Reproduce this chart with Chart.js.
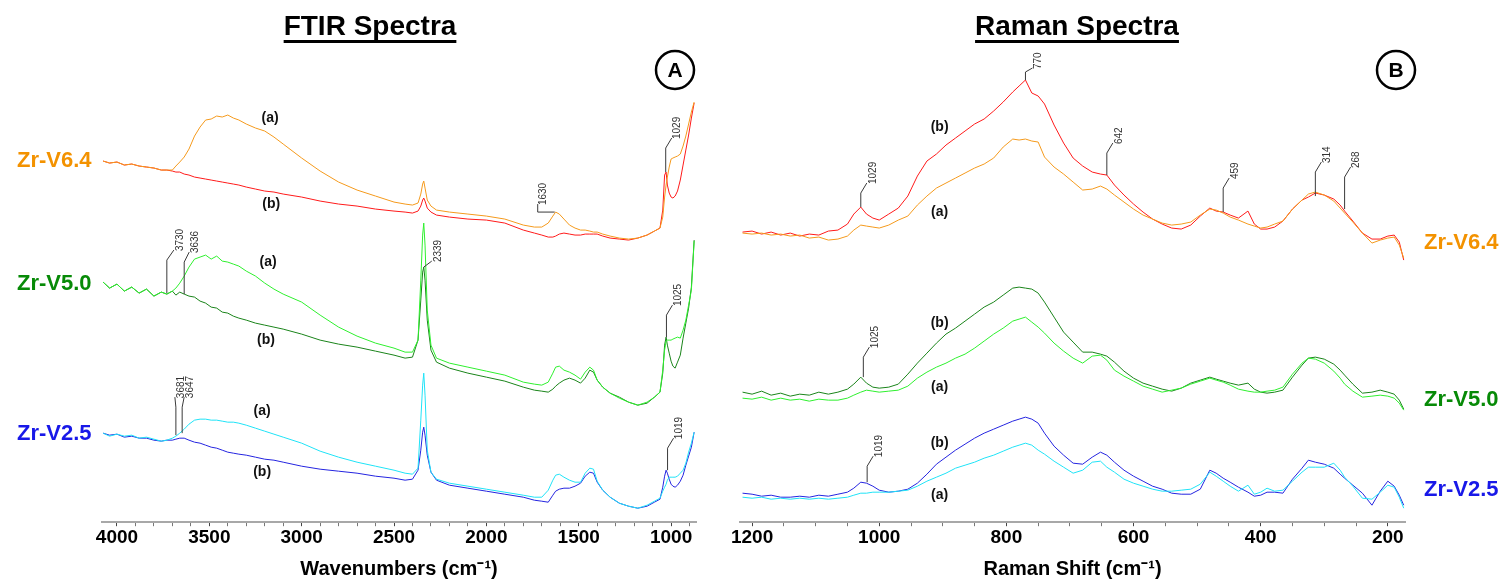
<!DOCTYPE html>
<html>
<head>
<meta charset="utf-8">
<title>FTIR and Raman spectra</title>
<script src="https://cdn.jsdelivr.net/npm/chart.js@4.4.1/dist/chart.umd.min.js"></script>
<style>
  body { margin: 0; background: #fff; width: 1502px; height: 584px; position: relative; overflow: hidden; }
  #ftir { position: absolute; left: 0; top: 0; }
  #raman { position: absolute; left: 700px; top: 0; }
</style>
</head>
<body>
<canvas id="ftir" width="740" height="584"></canvas>
<canvas id="raman" width="802" height="584"></canvas>
<script>
// ========================
// FTIR DATA (cm-1, stacked absorbance a.u.)
// ========================
const ftirWavenumbers = [
  4075, 4040, 4000, 3960, 3920, 3880, 3840, 3800, 3760, 3730,
  3700, 3681, 3660, 3636, 3610, 3580, 3550, 3520, 3490, 3460,
  3430, 3400, 3370, 3340, 3300, 3250, 3200, 3150, 3100, 3000,
  2900, 2800, 2700, 2600, 2500, 2440, 2400, 2370, 2355, 2345,
  2339, 2332, 2320, 2300, 2270, 2200, 2100, 2000, 1900, 1800,
  1740, 1700, 1665, 1640, 1625, 1605, 1580, 1550, 1520, 1490,
  1465, 1440, 1420, 1400, 1370, 1330, 1280, 1230, 1180, 1130,
  1090, 1060, 1045, 1035, 1027, 1020, 1010, 1000, 990, 978,
  965, 950, 935, 920, 905, 890, 875
];
const ftirV64a = [
  361, 359, 360, 357, 358, 356, 355, 354, 352, 352,
  352, 356, 360, 365, 373, 386, 395, 402, 403, 406,
  405, 407, 404, 402, 398, 394, 391, 385, 378, 364,
  351, 340, 332, 326, 320, 318, 317, 319, 328, 338,
  341, 334, 322, 316, 312, 310, 308, 306, 303, 297,
  295, 295, 299, 306, 310, 308, 303, 297, 294, 292,
  292, 291, 290, 290, 288, 286, 284, 283, 284, 287,
  291, 294, 305, 325, 337, 345, 355, 363, 364, 365,
  366, 368, 376, 386, 398, 410, 420
];
const ftirV64b = [
  361, 359, 360, 357, 358, 356, 355, 354, 352, 352,
  351, 350, 350, 348, 347, 345, 344, 343, 342, 341,
  340, 339, 338, 337, 335, 333, 331, 330, 328, 325,
  321, 318, 316, 313, 311, 310, 309, 311, 316, 322,
  324, 321, 314, 310, 307, 305, 303, 302, 299, 292,
  289, 287, 285, 285, 286, 288, 289, 288, 287, 287,
  288, 288, 288, 288, 286, 284, 283, 282, 284, 287,
  291, 294, 312, 347, 350, 337, 329, 325, 324, 326,
  331, 342, 357, 372, 387, 404, 419
];
const ftirV50a = [
  240, 234, 238, 231, 235, 229, 233, 226, 230, 228,
  231, 234, 239, 246, 255, 263, 265, 267, 263, 266,
  261, 260, 258, 256, 251, 246, 239, 233, 228, 220,
  207, 195, 186, 179, 174, 170, 170, 182, 242, 287,
  299, 277, 212, 177, 164, 159, 155, 151, 147, 140,
  138, 137, 140, 149, 155, 156, 152, 150, 147, 143,
  150, 155, 152, 142, 135, 129, 124, 120, 117, 120,
  125, 130, 152, 172, 181, 182, 182, 182, 183, 184,
  185, 184, 192, 202, 217, 232, 281
];
const ftirV50b = [
  240, 234, 238, 231, 235, 229, 233, 226, 230, 228,
  231, 227, 230, 228, 226, 225, 221, 219, 215, 214,
  210, 209, 206, 204, 202, 199, 197, 195, 193, 188,
  182, 178, 175, 171, 167, 164, 165, 182, 222, 250,
  255, 242, 202, 172, 160, 154, 149, 145, 141, 135,
  132, 131, 130, 133, 136, 139, 142, 144, 142, 139,
  144, 152, 150, 142, 135, 129, 125, 120, 117, 119,
  125, 130, 149, 177, 185, 177, 169, 161, 156, 154,
  160, 167, 184, 199, 214, 235, 282
];
const ftirV25a = [
  89, 86, 88, 86, 87, 84, 85, 83, 81, 82,
  84, 86, 89, 93, 98, 102, 103, 103, 102, 102,
  101, 100, 100, 99, 97, 94, 91, 88, 85, 79,
  71, 65, 60, 56, 52, 49, 48, 54, 102, 137,
  149, 127, 72, 50, 43, 39, 36, 33, 30, 27,
  25, 25, 32, 42, 47, 48, 45, 42, 40, 40,
  49, 54, 53, 41, 32, 25, 19, 16, 14, 17,
  21, 24, 31, 35, 38, 42, 45, 45, 45, 45,
  46, 49, 52, 59, 70, 79, 90
];
const ftirV25b = [
  89, 87, 88, 85, 86, 84, 84, 82, 81, 82,
  82, 83, 84, 84, 82, 80, 79, 77, 75, 74,
  72, 70, 69, 68, 67, 65, 63, 62, 60, 56,
  53, 51, 49, 46, 44, 42, 43, 52, 72, 90,
  95, 87, 67, 50, 42, 37, 34, 31, 28, 25,
  22, 21, 20, 27, 31, 33, 34, 34, 36, 39,
  46, 50, 49, 40, 32, 25, 19, 16, 14, 16,
  20, 23, 35, 46, 52, 49, 43, 38, 36, 35,
  37, 41, 47, 57, 66, 75, 90
];
const ftirTickLabels = [4000, 3500, 3000, 2500, 2000, 1500, 1000];

// ========================
// RAMAN DATA (cm-1, stacked intensity a.u.)
// ========================
const ramanShifts = [
  1215, 1200, 1185, 1170, 1155, 1140, 1125, 1110, 1095, 1080,
  1065, 1050, 1040, 1029, 1020, 1010, 1000, 985, 970, 955,
  940, 925, 910, 895, 880, 865, 850, 835, 820, 805,
  790, 780, 770, 760, 750, 740, 725, 710, 695, 680,
  665, 652, 642, 630, 615, 600, 585, 570, 555, 540,
  525, 510, 495, 480, 470, 459, 448, 435, 420, 410,
  400, 390, 378, 365, 350, 335, 325, 314, 300, 285,
  275, 268, 255, 240, 225, 212, 200, 190, 182, 175
];
const ramanV64a = [
  289, 288, 289, 287, 288, 286, 287, 284, 285, 282,
  283, 286, 292, 297, 296, 295, 294, 297, 302, 306,
  317, 326, 334, 339, 344, 349, 354, 358, 364, 375,
  383, 382, 383, 381, 380, 365, 355, 348, 340, 332,
  333, 336, 333, 327, 320, 313, 307, 303, 299, 297,
  298, 300, 307, 313, 312, 309, 305, 302, 298, 296,
  294, 295, 298, 301, 313, 322, 328, 330, 327, 321,
  314, 309, 300, 289, 279, 282, 284, 285, 277, 264
];
const ramanV64b = [
  290, 291, 288, 290, 287, 289, 286, 288, 287, 291,
  292, 298, 308, 315, 308, 304, 302, 308, 314, 326,
  346, 361, 368, 377, 384, 391, 398, 403, 411, 420,
  430, 436, 442, 429, 426, 418, 397, 379, 364, 356,
  350, 348, 347, 337, 327, 318, 310, 303, 298, 294,
  293, 297, 306, 314, 311, 310, 307, 304, 311, 298,
  293, 293, 295, 301, 313, 322, 325, 329, 327, 323,
  317, 311, 301, 289, 283, 283, 286, 287, 280, 262
];
const ramanV50a = [
  124, 123, 125, 122, 124, 122, 123, 121, 123, 122,
  122, 124, 127, 130, 132, 131, 130, 131, 132, 136,
  144, 150, 155, 159, 164, 168, 174, 181, 188, 194,
  201, 203, 205, 200, 195, 189, 179, 171, 164, 159,
  166, 167, 162, 152, 146, 141, 136, 133, 130, 132,
  134, 138, 141, 144, 142, 140, 137, 133, 131, 130,
  130, 131, 132, 135, 148, 159, 164, 163, 159, 151,
  144, 138, 131, 125, 126, 127, 126, 124, 119, 112
];
const ramanV50b = [
  130, 128, 131, 127, 129, 126, 128, 127, 130, 128,
  130, 133, 138, 145, 139, 135, 134, 135, 138, 148,
  159, 169, 179, 188, 194, 201, 208, 215, 220, 227,
  234, 235, 234, 233, 229, 220, 205, 190, 180, 170,
  170, 168, 166, 160, 151, 144, 139, 136, 133, 131,
  134, 139, 142, 145, 143, 141, 139, 137, 139, 133,
  130, 129, 130, 132, 145, 157, 164, 165, 163, 158,
  152, 147, 138, 129, 130, 132, 130, 128, 122, 113
];
const ramanV25a = [
  25, 24, 25, 23, 24, 23, 24, 23, 24, 23,
  24, 25, 27, 29, 29, 30, 30, 30, 31, 32,
  36, 41, 45, 49, 54, 57, 60, 64, 67, 71,
  75, 77, 79, 77, 72, 68, 61, 55, 49, 52,
  60, 61, 55, 50, 43, 39, 36, 33, 31, 31,
  32, 33, 38, 50, 46, 41, 36, 31, 37, 28,
  30, 34, 31, 32, 41, 50, 55, 55, 55, 59,
  52, 45, 36, 24, 23, 30, 37, 35, 25, 14
];
const ramanV25b = [
  29, 28, 26, 27, 25, 25, 26, 25, 27, 26,
  28, 30, 34, 40, 39, 36, 32, 30, 31, 33,
  39, 48, 58, 65, 72, 78, 84, 89, 93, 97,
  101, 103, 105, 103, 99, 89, 76, 67, 59, 58,
  65, 70, 67, 60, 52, 46, 41, 36, 33, 29,
  28, 28, 33, 52, 49, 44, 40, 35, 30, 26,
  27, 30, 30, 29, 43, 54, 62, 60, 58, 54,
  48, 44, 37, 29, 17, 31, 41, 36, 27, 17
];
const ramanTickLabels = [1200, 1000, 800, 600, 400, 200];

// peak markers: position, curve value, top of stem, text
const ftirPeaks = [
  { at: 3730, from: 229, to: 262, text: '3730', dx: 7 },
  { at: 3636, from: 228, to: 260, text: '3636', dx: 5 },
  { at: 3681, from: 87, to: 115, text: '3681', dx: -1 },
  { at: 3647, from: 89, to: 115, text: '3647', dx: 2 },
  { at: 2339, from: 255, to: 255, text: '2339', dx: 8, dy: -6 },
  { at: 1630, from: 310, to: 310, text: '1630', dx: -17, dy: -8, elbow: true },
  { at: 1029, from: 350, to: 374, text: '1029' },
  { at: 1025, from: 185, to: 207, text: '1025' },
  { at: 1019, from: 52, to: 74, text: '1019' }
];
const ramanPeaks = [
  { at: 1029, from: 315, to: 329, text: '1029' },
  { at: 770, from: 442, to: 450, text: '770', dx: 7, dy: -4 },
  { at: 642, from: 347, to: 369, text: '642' },
  { at: 459, from: 310, to: 334, text: '459' },
  { at: 314, from: 326, to: 350, text: '314' },
  { at: 268, from: 313, to: 345, text: '268' },
  { at: 1025, from: 145, to: 165, text: '1025' },
  { at: 1019, from: 40, to: 56, text: '1019' }
];

// (a)/(b) tags, placed in data units
const ftirTags = [
  { at: 3171, y: 404, text: '(a)' }, { at: 3165, y: 318, text: '(b)' },
  { at: 3182, y: 260, text: '(a)' }, { at: 3193, y: 182, text: '(b)' },
  { at: 3214, y: 111, text: '(a)' }, { at: 3214, y: 50, text: '(b)' }
];
const ramanTags = [
  { at: 905, y: 395, text: '(b)' }, { at: 905, y: 310, text: '(a)' },
  { at: 905, y: 199, text: '(b)' }, { at: 905, y: 135, text: '(a)' },
  { at: 905, y: 79, text: '(b)' }, { at: 905, y: 27, text: '(a)' }
];

const FONT = '"Liberation Sans", Arial, sans-serif';
const COLORS = {
  v64a: '#f59a1c', v64b: '#ff1a1a',
  v50a: '#2ef02e', v50b: '#1a841a',
  v25a: '#1fe3f7', v25b: '#2424e0',
  lab64: '#f39200', lab50: '#078a07', lab25: '#1818e8'
};

const toPoints = (xs, ys) => xs.map((v, i) => ({ x: v, y: ys[i] }));

function spectrum(xs, ys, color) {
  return {
    data: toPoints(xs, ys),
    borderColor: color,
    borderWidth: 1,
    pointRadius: 0,
    tension: 0,
    fill: false
  };
}

// ========================
// DECORATIONS (titles, circles, labels, peak markers)
// ========================
const decorations = {
  id: 'decorations',
  afterDraw(chart, args, o) {
    const { ctx } = chart;
    const x = chart.scales.x;
    const y = chart.scales.y;
    ctx.save();

    // underlined title
    ctx.fillStyle = '#000';
    ctx.font = `bold 28px ${FONT}`;
    ctx.textAlign = 'center';
    ctx.textBaseline = 'middle';
    ctx.fillText(o.title, o.titleX, 27);
    const tw = ctx.measureText(o.title).width;
    ctx.fillRect(o.titleX - tw / 2, 40, tw, 3);

    // circled letter
    ctx.strokeStyle = '#000';
    ctx.lineWidth = 2.5;
    ctx.beginPath();
    ctx.arc(o.circleX, 70, 19, 0, Math.PI * 2);
    ctx.stroke();
    ctx.font = `bold 21px ${FONT}`;
    ctx.fillText(o.letter, o.circleX, 71);

    // sample names
    ctx.font = `bold 22px ${FONT}`;
    ctx.textAlign = 'left';
    o.names.forEach(n => {
      ctx.fillStyle = n.color;
      ctx.fillText(n.text, n.x, n.y);
    });

    // (a)/(b) tags
    ctx.fillStyle = '#111';
    ctx.font = `bold 14px ${FONT}`;
    ctx.textAlign = 'center';
    o.tags.forEach(t => {
      ctx.fillText(t.text, x.getPixelForValue(t.at), y.getPixelForValue(t.y));
    });

    // peak markers
    ctx.strokeStyle = '#3a3a3a';
    ctx.lineWidth = 1;
    ctx.fillStyle = '#333';
    ctx.font = `10px ${FONT}`;
    o.peaks.forEach(p => {
      const px = x.getPixelForValue(p.at);
      const y0 = y.getPixelForValue(p.from);
      const y1 = y.getPixelForValue(p.to);
      const ex = px + (p.dx ?? 6);
      const ey = y1 + (p.dy ?? -10);
      ctx.beginPath();
      ctx.moveTo(px, y0);
      ctx.lineTo(px, y1);
      if (p.elbow) ctx.lineTo(ex, y1);
      ctx.lineTo(ex, ey);
      ctx.stroke();
      ctx.save();
      ctx.translate(ex + 6, ey + 1);
      ctx.rotate(-Math.PI / 2);
      ctx.textAlign = 'left';
      ctx.textBaseline = 'middle';
      ctx.fillText(p.text, 0, 0);
      ctx.restore();
    });

    ctx.restore();
  }
};

function axisX(min, max, step, labels, title) {
  return {
    type: 'linear',
    reverse: true,
    min,
    max,
    border: { display: true, color: '#a8a8a8', width: 2 },
    grid: {
      drawOnChartArea: false,
      drawTicks: true,
      tickLength: 4,
      tickColor: c => (labels.includes(c.tick && c.tick.value) ? '#444' : '#777')
    },
    ticks: {
      stepSize: step,
      includeBounds: false,
      autoSkip: false,
      maxRotation: 0,
      padding: 0,
      color: '#000',
      font: { family: FONT, size: 19, weight: 'bold' },
      callback: v => (labels.includes(v) ? String(v) : '')
    },
    title: {
      display: true,
      text: title,
      color: '#000',
      font: { family: FONT, size: 20, weight: 'bold' },
      padding: { top: 8, bottom: 0 }
    }
  };
}

function baseOptions(xAxis, padding, deco) {
  return {
    responsive: false,
    animation: false,
    layout: { padding },
    plugins: { legend: { display: false }, tooltip: { enabled: false }, decorations: deco },
    scales: {
      x: xAxis,
      y: { display: false, min: 0, max: 460 }
    }
  };
}

// ========================
// FTIR CHART
// ========================
new Chart(document.getElementById('ftir'), {
  type: 'line',
  data: {
    datasets: [
      spectrum(ftirWavenumbers, ftirV64a, COLORS.v64a),
      spectrum(ftirWavenumbers, ftirV64b, COLORS.v64b),
      spectrum(ftirWavenumbers, ftirV50a, COLORS.v50a),
      spectrum(ftirWavenumbers, ftirV50b, COLORS.v50b),
      spectrum(ftirWavenumbers, ftirV25a, COLORS.v25a),
      spectrum(ftirWavenumbers, ftirV25b, COLORS.v25b)
    ]
  },
  options: baseOptions(
    axisX(865, 4081, 100, ftirTickLabels, 'Wavenumbers (cm\u207B\u00B9)'),
    { left: 102, right: 44, top: 62, bottom: 3 },
    {
      title: 'FTIR Spectra', titleX: 370, letter: 'A', circleX: 675,
      names: [
        { text: 'Zr-V6.4', x: 17, y: 161, color: COLORS.lab64 },
        { text: 'Zr-V5.0', x: 17, y: 284, color: COLORS.lab50 },
        { text: 'Zr-V2.5', x: 17, y: 434, color: COLORS.lab25 }
      ],
      tags: ftirTags,
      peaks: ftirPeaks
    }
  ),
  plugins: [decorations]
});

// ========================
// RAMAN CHART
// ========================
new Chart(document.getElementById('raman'), {
  type: 'line',
  data: {
    datasets: [
      spectrum(ramanShifts, ramanV64a, COLORS.v64a),
      spectrum(ramanShifts, ramanV64b, COLORS.v64b),
      spectrum(ramanShifts, ramanV50a, COLORS.v50a),
      spectrum(ramanShifts, ramanV50b, COLORS.v50b),
      spectrum(ramanShifts, ramanV25a, COLORS.v25a),
      spectrum(ramanShifts, ramanV25b, COLORS.v25b)
    ]
  },
  options: baseOptions(
    axisX(173, 1219, 50, ramanTickLabels, 'Raman Shift (cm\u207B\u00B9)'),
    { left: 40, right: 97, top: 62, bottom: 3 },
    {
      title: 'Raman Spectra', titleX: 377, letter: 'B', circleX: 696,
      names: [
        { text: 'Zr-V6.4', x: 724, y: 243, color: COLORS.lab64 },
        { text: 'Zr-V5.0', x: 724, y: 400, color: COLORS.lab50 },
        { text: 'Zr-V2.5', x: 724, y: 490, color: COLORS.lab25 }
      ],
      tags: ramanTags,
      peaks: ramanPeaks
    }
  ),
  plugins: [decorations]
});
</script>
</body>
</html>
